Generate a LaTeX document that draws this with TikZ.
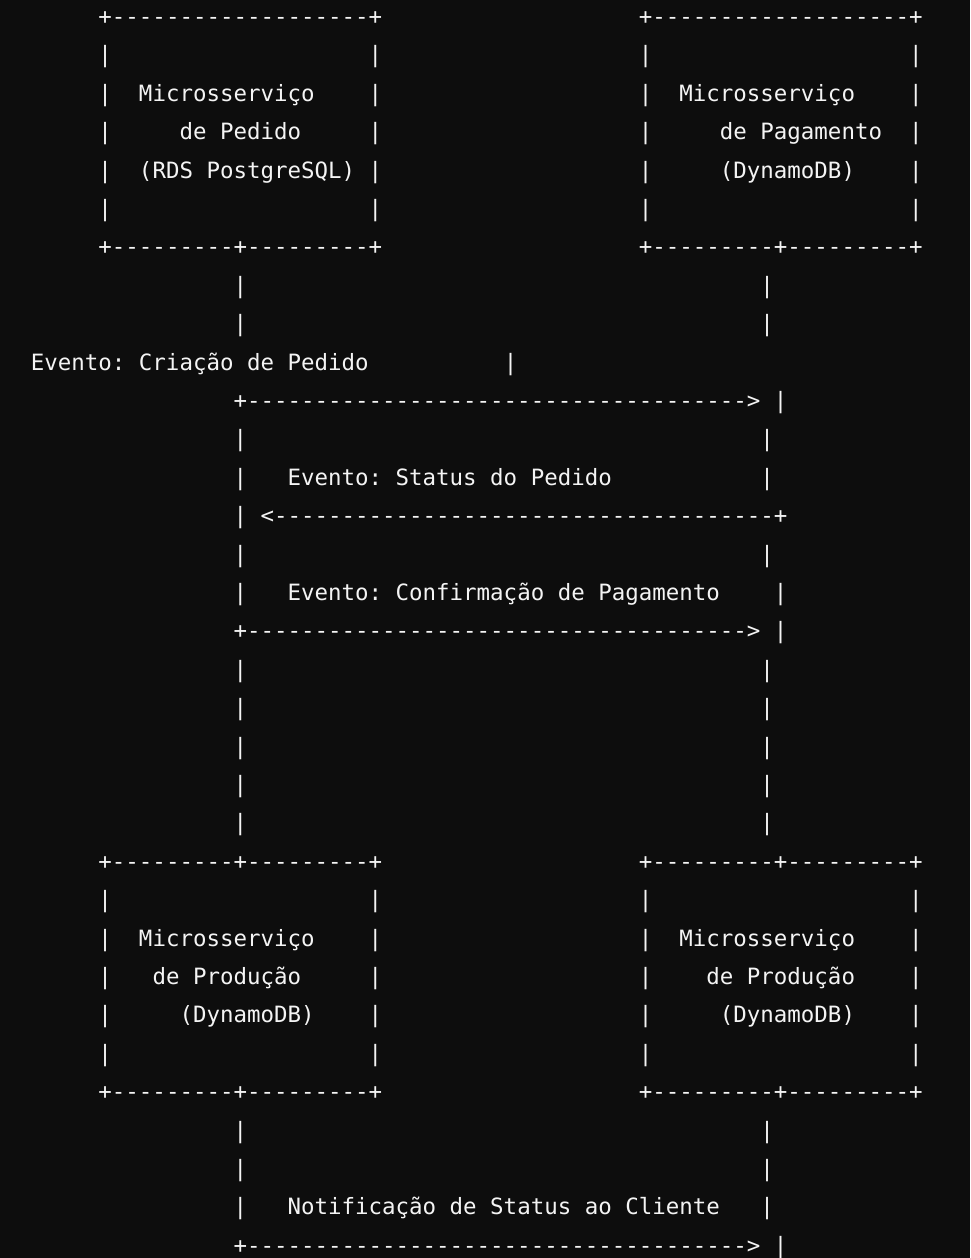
\documentclass[tikz,border=0pt]{standalone}
\usepackage{fontspec}
\setmonofont{DejaVu Sans Mono}
\definecolor{bgc}{HTML}{0D0D0D}
\definecolor{txc}{HTML}{F4F4F4}
\tikzset{
  seg/.style={anchor=base west, inner sep=0pt, outer sep=0pt, text=txc,
    font=\ttfamily\fontsize{22.44}{26}\selectfont\frenchspacing}
}
% \seg{name}{column}{row}{text}
\newcommand\seg[4]{\node[seg] (#1) at ({17.4+#2*13.51}, {-(24.4+#3*38.4)}) {#4};}
\newcommand\pipes[2]{\seg{#1l}{16}{#2}{|}\seg{#1r}{55}{#2}{|}}
\newcommand\boxpipes[2]{\seg{#1a}{6}{#2}{|}\seg{#1b}{26}{#2}{|}\seg{#1c}{46}{#2}{|}\seg{#1d}{66}{#2}{|}}
\begin{document}
\begin{tikzpicture}[x=1pt,y=1pt]
\fill[bgc] (0,0) rectangle (970,-1258);
\useasboundingbox (0,0) rectangle (970,-1258);
% top boxes
\seg{r0a}{6}{0}{+-------------------+}
\seg{r0b}{46}{0}{+-------------------+}
\boxpipes{r1}{1}
\boxpipes{r2}{2}
\seg{r2t}{9}{2}{Microsserviço}
\seg{r2u}{49}{2}{Microsserviço}
\boxpipes{r3}{3}
\seg{r3t}{12}{3}{de Pedido}
\seg{r3u}{52}{3}{de Pagamento}
\boxpipes{r4}{4}
\seg{r4t}{9}{4}{(RDS PostgreSQL)}
\seg{r4u}{52}{4}{(DynamoDB)}
\boxpipes{r5}{5}
\seg{r6a}{6}{6}{+---------+---------+}
\seg{r6b}{46}{6}{+---------+---------+}
% middle
\pipes{r7}{7}
\pipes{r8}{8}
\seg{r9t}{1}{9}{Evento: Criação de Pedido}
\seg{r9p}{36}{9}{|}
\seg{r10}{16}{10}{+-------------------------------------> |}
\pipes{r11}{11}
\seg{r12l}{16}{12}{|}
\seg{r12t}{20}{12}{Evento: Status do Pedido}
\seg{r12r}{55}{12}{|}
\seg{r13}{16}{13}{| <-------------------------------------+}
\pipes{r14}{14}
\seg{r15l}{16}{15}{|}
\seg{r15t}{20}{15}{Evento: Confirmação de Pagamento}
\seg{r15r}{56}{15}{|}
\seg{r16}{16}{16}{+-------------------------------------> |}
\pipes{r17}{17}
\pipes{r18}{18}
\pipes{r19}{19}
\pipes{r20}{20}
\pipes{r21}{21}
% bottom boxes
\seg{r22a}{6}{22}{+---------+---------+}
\seg{r22b}{46}{22}{+---------+---------+}
\boxpipes{r23}{23}
\boxpipes{r24}{24}
\seg{r24t}{9}{24}{Microsserviço}
\seg{r24u}{49}{24}{Microsserviço}
\boxpipes{r25}{25}
\seg{r25t}{10}{25}{de Produção}
\seg{r25u}{51}{25}{de Produção}
\boxpipes{r26}{26}
\seg{r26t}{12}{26}{(DynamoDB)}
\seg{r26u}{52}{26}{(DynamoDB)}
\boxpipes{r27}{27}
\seg{r28a}{6}{28}{+---------+---------+}
\seg{r28b}{46}{28}{+---------+---------+}
\pipes{r29}{29}
\pipes{r30}{30}
\seg{r31l}{16}{31}{|}
\seg{r31t}{20}{31}{Notificação de Status ao Cliente}
\seg{r31r}{55}{31}{|}
\seg{r32}{16}{32}{+-------------------------------------> |}
\end{tikzpicture}
\end{document}
